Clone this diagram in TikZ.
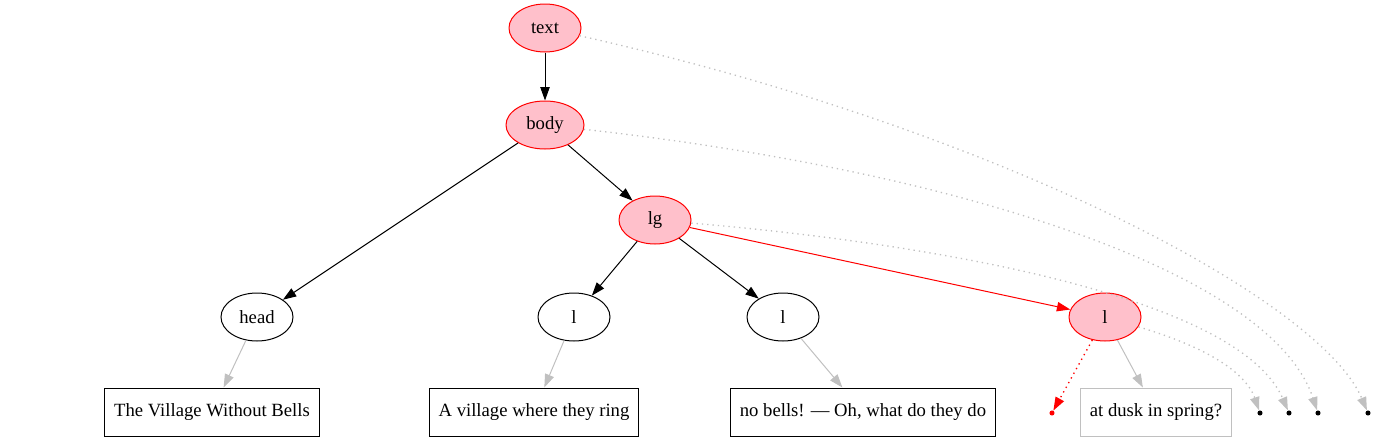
\documentclass[tikz,border=0pt]{standalone}
\usepackage{fontspec}
\setmainfont{Liberation Serif}
\usetikzlibrary{shapes.geometric,arrows.meta}
\definecolor{pinkfill}{HTML}{FFC0CB}
\definecolor{lgray}{HTML}{C0C0C0}
\tikzset{
  el/.style={draw, ellipse, line width=0.75pt, minimum width=54pt, minimum height=36pt, inner sep=2pt, font=\rmfamily\fontsize{14pt}{16pt}\selectfont},
  hl/.style={el, draw=red, fill=pinkfill},
  bx/.style={draw, rectangle, line width=0.75pt, minimum height=36pt, inner xsep=7pt, font=\rmfamily\fontsize{14pt}{16pt}\selectfont},
  dotn/.style={circle, fill=black, inner sep=0pt, minimum size=3.8pt},
  tip/.style={-{Triangle[length=10pt,width=7pt]}},
  blk/.style={tip, line width=0.75pt, black},
  redl/.style={tip, line width=0.75pt, red},
  gry/.style={tip, line width=0.75pt, draw=lgray, arrows={-{Triangle[length=10pt,width=7pt,fill=lgray]}}},
  gdot/.style={gry, line width=1pt, dash pattern=on 1pt off 3pt},
  rdot/.style={redl, line width=1pt, dash pattern=on 1pt off 3pt},
}
\begin{document}
\begin{tikzpicture}[x=0.75pt,y=-0.75pt]
\useasboundingbox (0,0) rectangle (1376,443);
\node[hl] (text) at (545,28) {text};
\node[hl, minimum width=58.5pt] (body) at (545,125) {body};
\node[hl] (lg) at (655,220) {lg};
\node[el] (head) at (257,317) {head};
\node[el] (l1) at (574,317) {l};
\node[el] (l2) at (783,317) {l};
\node[hl] (l3) at (1105,317) {l};
\node[bx] (b1) at (212,412) {The Village Without Bells};
\node[bx] (b2) at (534,412) {A village where they ring};
\node[bx] (b3) at (863,412) {no bells! — Oh, what do they do};
\node[bx, draw=lgray] (b4) at (1156,412) {at dusk in spring?};
\node[dotn, fill=red] (rd) at (1052,413) {};
\node[dotn] (d1) at (1260,413) {};
\node[dotn] (d2) at (1289,413) {};
\node[dotn] (d3) at (1318,413) {};
\node[dotn] (d4) at (1368,413) {};
\draw[blk] (text) -- (body);
\draw[blk] (body) -- (head);
\draw[blk] (body) -- (lg);
\draw[blk] (lg) -- (l1);
\draw[blk] (lg) -- (l2);
\draw[redl] (lg) -- (l3);
\draw[gry] (head) -- (b1);
\draw[gry] (l1) -- (b2);
\draw[gry] (l2) -- (b3);
\draw[gry] (l3) -- (b4);
\draw[rdot] (l3) -- (rd);
\draw[gdot] (text) .. controls (1000,130) and (1320,300) .. (d4);
\draw[gdot] (body) .. controls (950,170) and (1270,270) .. (d3);
\draw[gdot] (lg) .. controls (950,245) and (1240,300) .. (d2);
\draw[gdot] (l3) .. controls (1200,345) and (1245,370) .. (d1);
\end{tikzpicture}
\end{document}
